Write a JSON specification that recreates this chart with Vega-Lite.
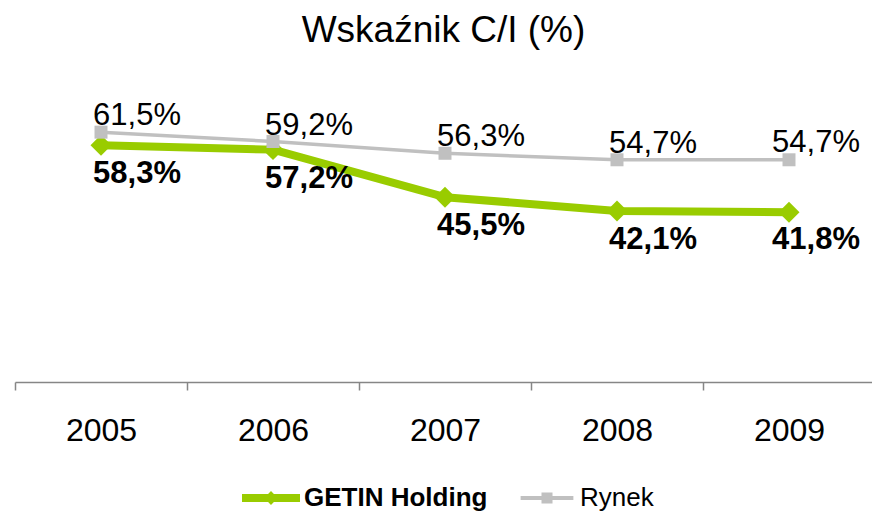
{
  "$schema": "https://vega.github.io/schema/vega-lite/v6.json",
  "width": 857,
  "height": 325,
  "autosize": {"type": "none"},
  "padding": {"left": 15, "top": 57, "right": 0, "bottom": 129},
  "background": "white",
  "config": {"view": {"stroke": null}},
  "title": {
    "text": "Wskaźnik C/I (%)",
    "font": "Liberation Sans",
    "fontSize": 37,
    "fontWeight": "normal",
    "color": "black",
    "anchor": "middle",
    "frame": "group",
    "baseline": "alphabetic",
    "offset": 15,
    "dy": 37
  },
  "data": {
    "values": [
      {"year": "2005", "series": "GETIN Holding", "value": 58.3},
      {"year": "2006", "series": "GETIN Holding", "value": 57.2},
      {"year": "2007", "series": "GETIN Holding", "value": 45.5},
      {"year": "2008", "series": "GETIN Holding", "value": 42.1},
      {"year": "2009", "series": "GETIN Holding", "value": 41.8},
      {"year": "2005", "series": "Rynek", "value": 61.5},
      {"year": "2006", "series": "Rynek", "value": 59.2},
      {"year": "2007", "series": "Rynek", "value": 56.3},
      {"year": "2008", "series": "Rynek", "value": 54.7},
      {"year": "2009", "series": "Rynek", "value": 54.7}
    ]
  },
  "transform": [
    {"calculate": "replace(format(datum.value, '.1f'), '.', ',') + '%'", "as": "label"}
  ],
  "encoding": {
    "x": {
      "field": "year",
      "type": "ordinal",
      "scale": {"type": "band", "range": [0, 860], "paddingInner": 0, "paddingOuter": 0},
      "axis": {
        "title": null,
        "labelAngle": 0,
        "domainColor": "#868686",
        "domainWidth": 1.5,
        "tickColor": "#868686",
        "tickWidth": 1.5,
        "tickSize": 8,
        "tickBand": "extent",
        "labelFont": "Liberation Sans",
        "labelFontSize": 32,
        "labelColor": "black",
        "labelBaseline": "alphabetic",
        "labelPadding": 50,
        "grid": false
      }
    },
    "y": {
      "field": "value",
      "type": "quantitative",
      "scale": {"domain": [0, 80]},
      "axis": null
    }
  },
  "layer": [
    {
      "transform": [{"filter": "datum.series === 'GETIN Holding'"}],
      "mark": {"type": "line", "strokeWidth": 8, "strokeJoin": "round"},
      "encoding": {
        "color": {
          "field": "series",
          "type": "nominal",
          "scale": {"domain": ["GETIN Holding", "Rynek"], "range": ["#99CC00", "#C0C0C0"]},
          "legend": {
            "orient": "none",
            "legendX": 227,
            "legendY": 412,
            "direction": "horizontal",
            "title": null,
            "labelFont": "Liberation Sans",
            "labelFontSize": 26,
            "labelColor": "black",
            "labelLimit": 400,
            "symbolSize": 3364,
            "labelOffset": 4,
            "columnPadding": 30,
            "padding": 0,
            "encode": {
              "symbols": {
                "update": {
                  "shape": {"signal": "datum.value === 'GETIN Holding' ? 'M-1,-0.14L-0.1,-0.14L0,-0.24L0.1,-0.14L1,-0.14L1,0.14L0.1,0.14L0,0.24L-0.1,0.14L-1,0.14Z' : 'M-0.91,-0.07L-0.19,-0.07L-0.19,-0.19L0.19,-0.19L0.19,-0.07L0.91,-0.07L0.91,0.07L0.19,0.07L0.19,0.19L-0.19,0.19L-0.19,0.07L-0.91,0.07Z'"},
                  "fill": {"signal": "datum.value === 'GETIN Holding' ? '#99CC00' : '#C0C0C0'"},
                  "stroke": {"value": "transparent"},
                  "strokeWidth": {"value": 0},
                  "opacity": {"value": 1},
                  "fillOpacity": {"value": 1}
                }
              },
              "labels": {
                "update": {
                  "fontWeight": {"signal": "datum.value === 'GETIN Holding' ? 'bold' : 'normal'"}
                }
              }
            }
          }
        }
      }
    },
    {
      "transform": [{"filter": "datum.series === 'GETIN Holding'"}],
      "mark": {"type": "point", "shape": "diamond", "filled": true, "size": 440, "opacity": 1, "strokeWidth": 0},
      "encoding": {"color": {"field": "series", "type": "nominal"}}
    },
    {
      "transform": [{"filter": "datum.series === 'Rynek'"}],
      "mark": {"type": "line", "strokeWidth": 3.5, "strokeJoin": "round"},
      "encoding": {"color": {"field": "series", "type": "nominal"}}
    },
    {
      "transform": [{"filter": "datum.series === 'Rynek'"}],
      "mark": {"type": "point", "shape": "square", "filled": true, "size": 169, "opacity": 1, "strokeWidth": 0},
      "encoding": {"color": {"field": "series", "type": "nominal"}}
    },
    {
      "transform": [{"filter": "datum.series === 'Rynek' && datum.year !== '2009'"}],
      "mark": {"type": "text", "font": "Liberation Sans", "fontSize": 31, "color": "black", "baseline": "alphabetic", "dx": 36, "dy": -7},
      "encoding": {"text": {"field": "label"}}
    },
    {
      "transform": [{"filter": "datum.series === 'Rynek' && datum.year === '2009'"}],
      "mark": {"type": "text", "font": "Liberation Sans", "fontSize": 31, "color": "black", "baseline": "alphabetic", "dx": 27, "dy": -8},
      "encoding": {"text": {"field": "label"}}
    },
    {
      "transform": [{"filter": "datum.series === 'GETIN Holding' && datum.year !== '2009'"}],
      "mark": {"type": "text", "font": "Liberation Sans", "fontSize": 31, "fontWeight": "bold", "color": "black", "baseline": "alphabetic", "dx": 36, "dy": 38},
      "encoding": {"text": {"field": "label"}}
    },
    {
      "transform": [{"filter": "datum.series === 'GETIN Holding' && datum.year === '2009'"}],
      "mark": {"type": "text", "font": "Liberation Sans", "fontSize": 31, "fontWeight": "bold", "color": "black", "baseline": "alphabetic", "dx": 27, "dy": 37},
      "encoding": {"text": {"field": "label"}}
    }
  ]
}
